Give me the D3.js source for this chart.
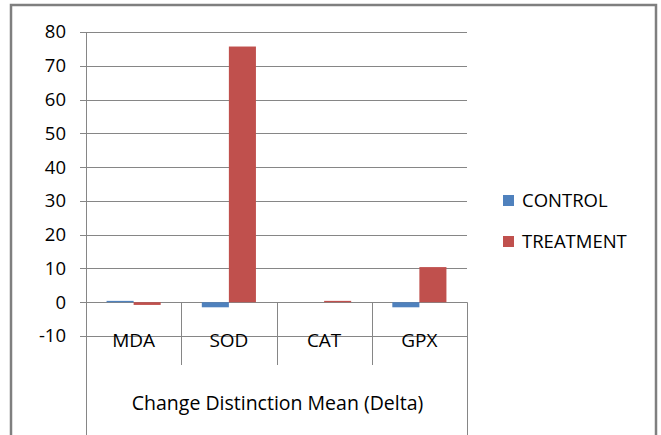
<!DOCTYPE html>
<html><head><meta charset="utf-8">
<script src="https://cdn.jsdelivr.net/npm/d3@7"></script>
<style>body{margin:0;background:#fff}svg{display:block}text{font-family:"Open Sans",sans-serif;fill:#000}</style>
</head><body>
<script>
const categories = ["MDA","SOD","CAT","GPX"];
const seriesNames = ["CONTROL","TREATMENT"];
const control = [0.4,-1.5,0,-1.5];
const treatment = [-0.8,75.7,0.4,10.4];
const yTicks = [-10,0,10,20,30,40,50,60,70,80];
const axisTitle = "Change Distinction Mean (Delta)";
const colors = ["#4F81BD","#C0504D"];

const W=661,H=435;
const svg=d3.select("body").append("svg").attr("width",W).attr("height",H);
svg.append("rect").attr("x",11).attr("y",5).attr("width",645).attr("height",440)
  .attr("fill","#fff").attr("stroke","#7f7f7f").attr("stroke-width",2.5);

const x0=86,x1=467;
const y=d3.scaleLinear().domain([-10,80]).range([336,32]);
const x=d3.scaleBand().domain(categories).range([x0,x1]).paddingInner(0).paddingOuter(0);
const xs=d3.scaleBand().domain(seriesNames).range([0,x.bandwidth()]).paddingInner(0).paddingOuter(0.76);
const gridC="#868686";

svg.append("g").selectAll("line").data(yTicks).join("line")
  .attr("x1",80).attr("x2",x1).attr("y1",d=>Math.round(y(d))+0.5).attr("y2",d=>Math.round(y(d))+0.5)
  .attr("stroke",gridC).attr("stroke-width",1);
svg.append("g").selectAll("text").data(yTicks).join("text")
  .attr("x",66).attr("y",d=>y(d)).attr("dy","0.35em").attr("text-anchor","end")
  .attr("font-size",18.5).text(d=>d);
svg.append("line").attr("x1",x0+0.5).attr("x2",x0+0.5).attr("y1",y(80)).attr("y2",H)
  .attr("stroke",gridC);
svg.append("line").attr("x1",x1+0.5).attr("x2",x1+0.5).attr("y1",y(0)).attr("y2",H)
  .attr("stroke",gridC);
svg.append("g").selectAll("line").data(categories.slice(1)).join("line")
  .attr("x1",d=>Math.round(x(d))+0.5).attr("x2",d=>Math.round(x(d))+0.5)
  .attr("y1",y(0)).attr("y2",365).attr("stroke",gridC);
const data=[control,treatment];
seriesNames.forEach((s,si)=>{
  svg.append("g").selectAll("rect").data(categories).join("rect")
    .attr("x",(c)=>x(c)+xs(s)).attr("width",xs.bandwidth())
    .attr("y",(c,i)=>y(Math.max(0,data[si][i])))
    .attr("height",(c,i)=>Math.abs(y(data[si][i])-y(0)))
    .attr("fill",colors[si]);
});
svg.append("g").selectAll("text").data(categories).join("text")
  .attr("x",d=>x(d)+x.bandwidth()/2).attr("y",340).attr("dy","0.35em")
  .attr("text-anchor","middle").attr("font-size",19).text(d=>d);
svg.append("text").attr("x",(x0+x1)/2+1).attr("y",403).attr("dy","0.35em")
  .attr("text-anchor","middle").attr("font-size",19.5).text(axisTitle);
const lg=svg.append("g").selectAll("g").data(seriesNames).join("g")
  .attr("transform",(d,i)=>`translate(503,${201+i*41})`);
lg.append("rect").attr("x",0).attr("y",-6).attr("width",11).attr("height",11).attr("fill",(d,i)=>colors[i]);
lg.append("text").attr("x",19).attr("y",0).attr("dy","0.35em").attr("font-size",18.5).text(d=>d);
</script>
</body></html>
